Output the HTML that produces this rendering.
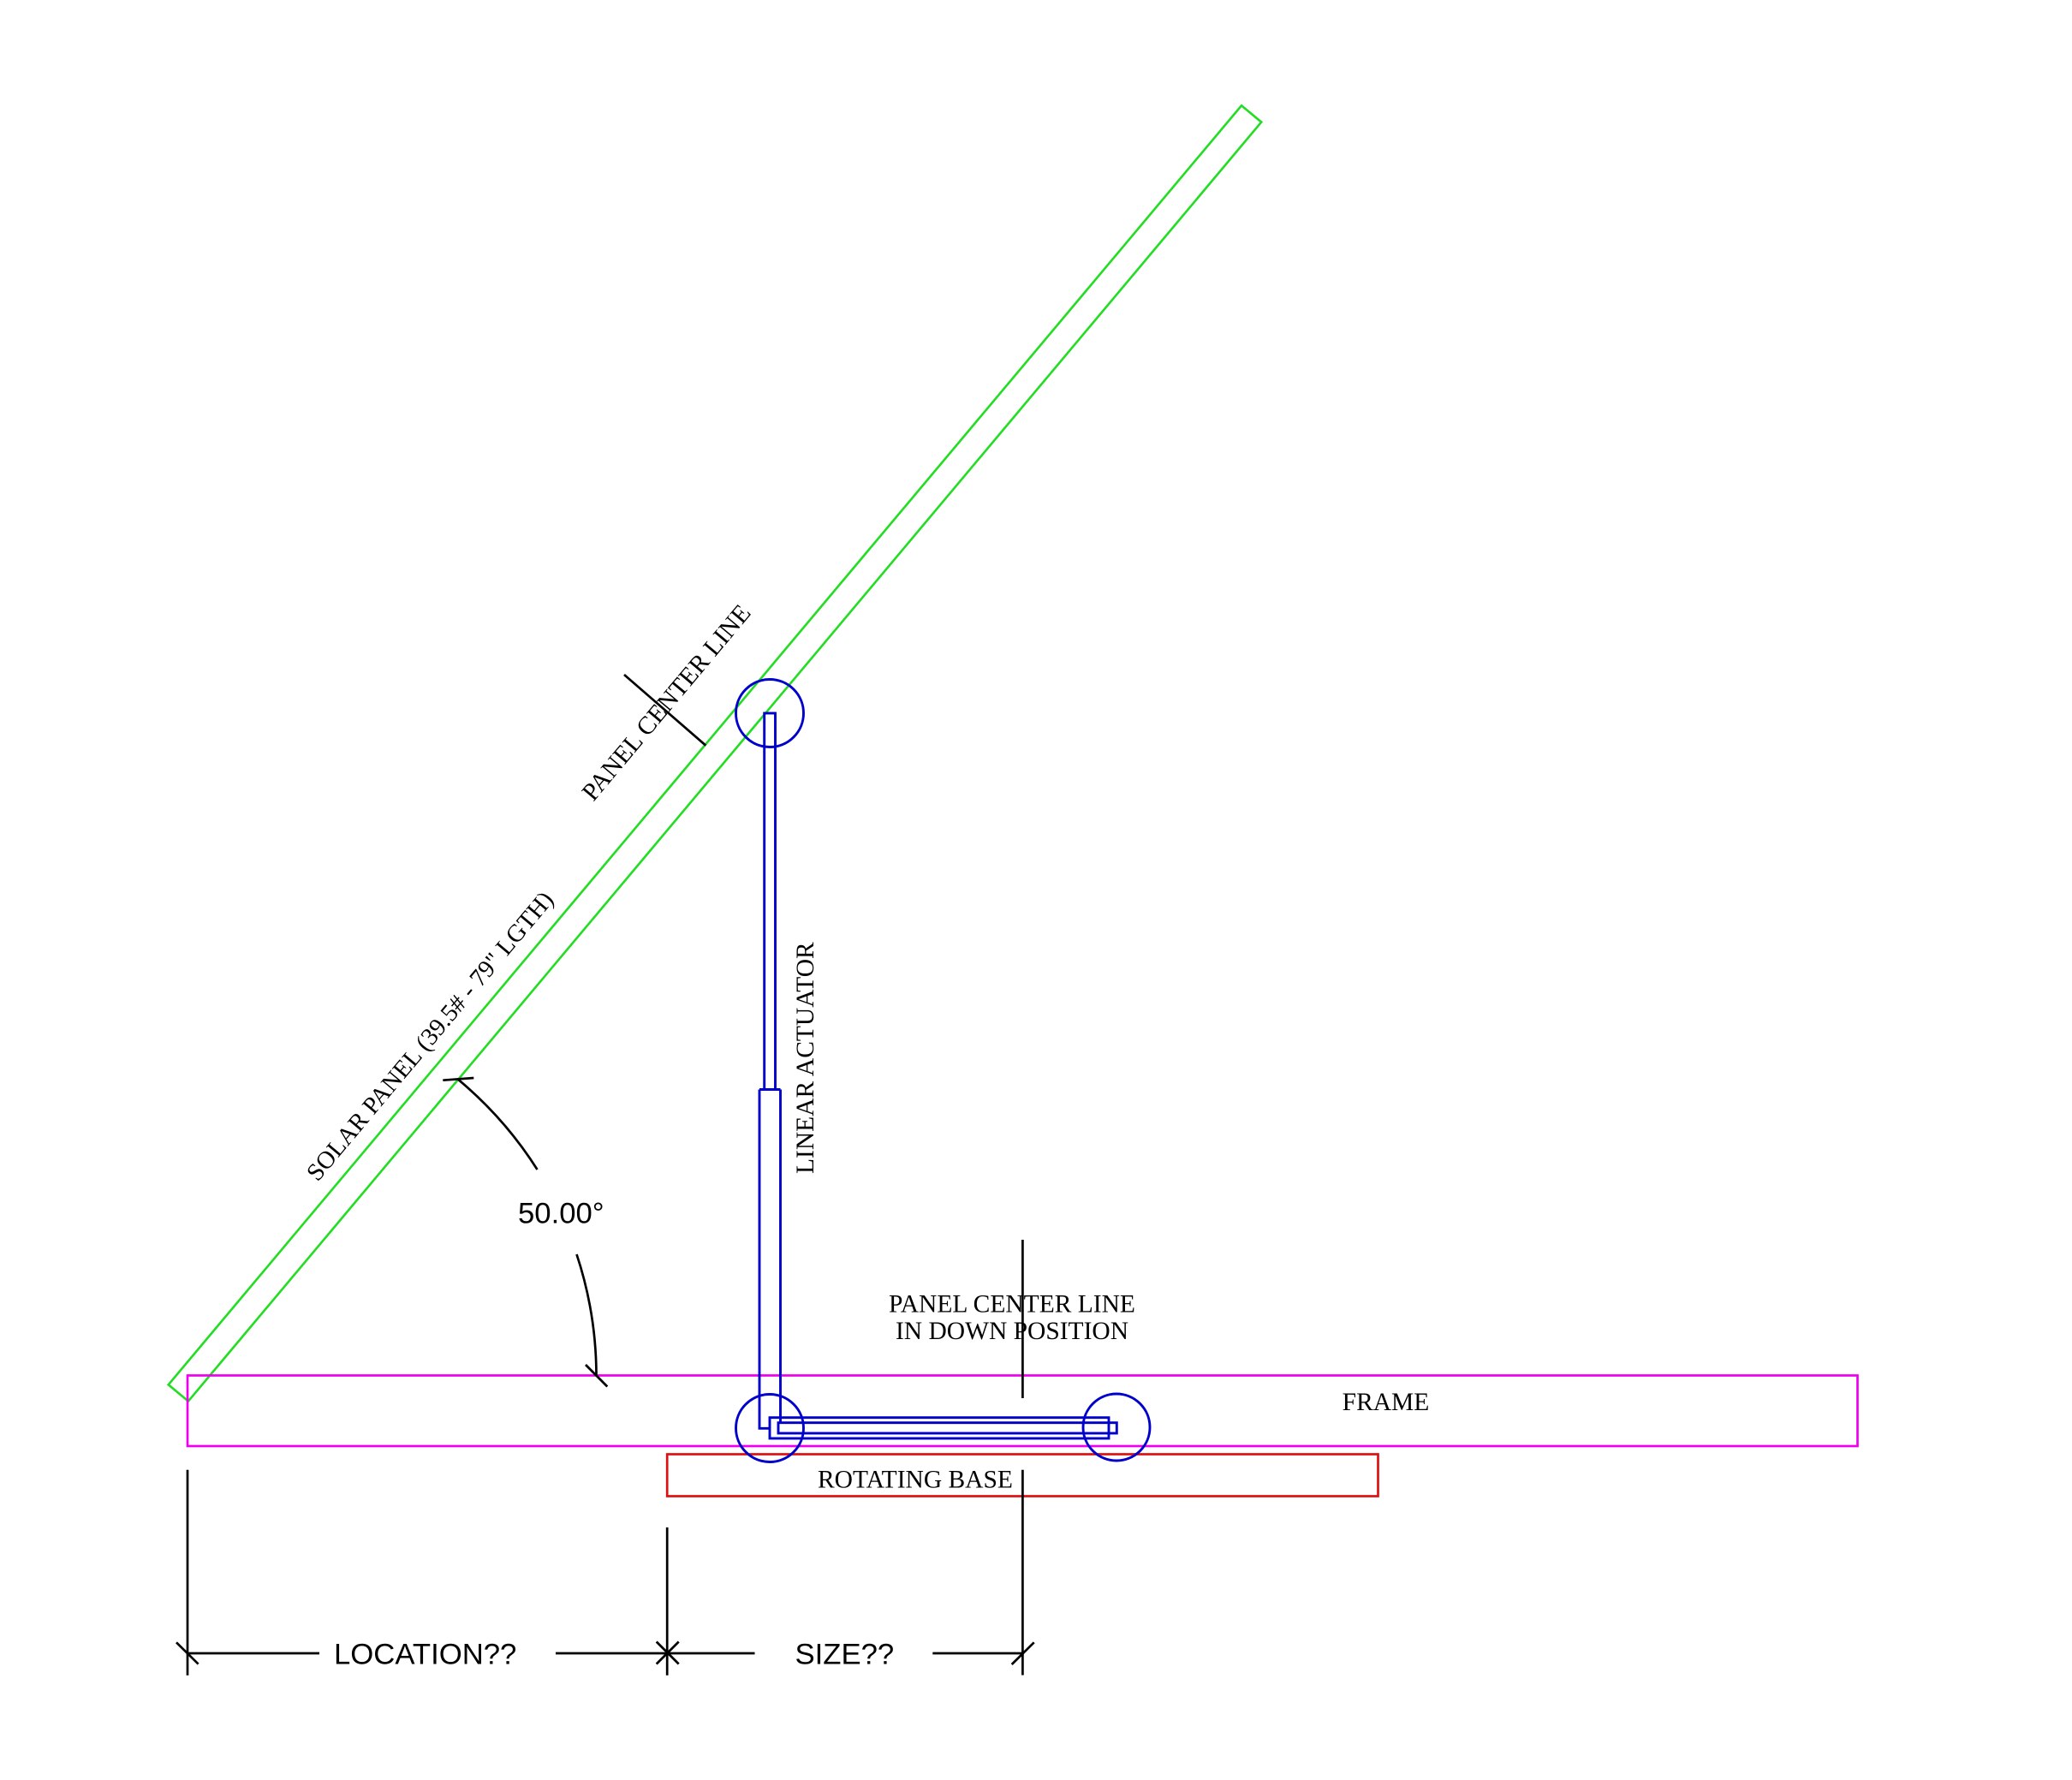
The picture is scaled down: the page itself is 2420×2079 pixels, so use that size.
<!DOCTYPE html>
<html>
<head>
<meta charset="utf-8">
<style>
  html, body { margin: 0; padding: 0; background: #ffffff; }
  svg { display: block; }
  .serif { font-family: "Liberation Serif", "Times New Roman", serif; font-size: 29.5px; fill: #000; }
  .sans { font-family: "Liberation Sans", Arial, sans-serif; font-size: 34.7px; fill: #000; }
</style>
</head>
<body>
<svg width="2420" height="2079" viewBox="0 0 2420 2079" xmlns="http://www.w3.org/2000/svg">
  <rect x="0" y="0" width="2420" height="2079" fill="#ffffff"/>

  <!-- Solar panel (green) -->
  <polygon points="196.7,1617.3 1450,123.3 1473.2,142.6 219.9,1636.6" fill="none" stroke="#22dd22" stroke-width="2.6" stroke-linejoin="miter"/>

  <!-- Frame (magenta) -->
  <rect x="219" y="1606.5" width="1950.5" height="82.5" fill="none" stroke="#ee00ee" stroke-width="2.7"/>

  <!-- Rotating base (red) -->
  <rect x="779.2" y="1698.5" width="830.3" height="49" fill="none" stroke="#dd1111" stroke-width="2.7"/>

  <!-- Linear actuator (blue) -->
  <g fill="none" stroke="#0000cc" stroke-width="2.9">
    <circle cx="899" cy="833" r="39.5"/>
    <circle cx="899" cy="1668" r="39.5"/>
    <circle cx="1304" cy="1667" r="39"/>
    <!-- rod -->
    <rect x="892.7" y="833" width="12.8" height="439.5"/>
    <!-- body -->
    <path d="M887,1272.5 H911.5 M887,1272.5 V1668.3 H899 M911.5,1272.5 V1661.7"/>
    <!-- horizontal actuator -->
    <rect x="899" y="1655.7" width="396" height="24.3"/>
    <rect x="909" y="1661.7" width="395.3" height="12.3"/>
  </g>

  <!-- Black lines: dimensions, center lines -->
  <g fill="none" stroke="#000" stroke-width="2.7" stroke-linecap="butt">
    <!-- panel center line tick -->
    <line x1="729" y1="788" x2="824.3" y2="870.7"/>
    <!-- panel center line in down position -->
    <line x1="1194.4" y1="1448" x2="1194.4" y2="1633"/>
    <line x1="1194.4" y1="1716.7" x2="1194.4" y2="1956.5"/>
    <!-- extension lines -->
    <line x1="219" y1="1716.7" x2="219" y2="1956.7"/>
    <line x1="779.2" y1="1784" x2="779.2" y2="1956.7"/>
    <!-- dimension lines -->
    <line x1="219" y1="1931" x2="373" y2="1931"/>
    <line x1="649" y1="1931" x2="881.5" y2="1931"/>
    <line x1="1089.3" y1="1931" x2="1194.4" y2="1931"/>
    <!-- ticks -->
    <line x1="206" y1="1918.3" x2="231.6" y2="1943.6"/>
    <line x1="766.7" y1="1917.5" x2="792.7" y2="1943.5"/>
    <line x1="766.7" y1="1943.5" x2="792.7" y2="1917.5"/>
    <line x1="1181.7" y1="1944" x2="1207.7" y2="1918.3"/>
    <!-- angle dimension arcs -->
    <path d="M535,1260.7 A452,452 0 0 1 627.5,1366"/>
    <path d="M673.5,1465 A452,452 0 0 1 696.5,1607"/>
    <line x1="517.3" y1="1261.7" x2="553.3" y2="1259"/>
    <line x1="684" y1="1594" x2="709.3" y2="1619.5"/>
  </g>

  <!-- Text labels -->
  <text class="serif" transform="translate(693,937) rotate(-50)">PANEL CENTER LINE</text>
  <text class="serif" transform="translate(371,1381) rotate(-50)" style="font-size:28.8px">SOLAR PANEL (39.5# - 79" LGTH)</text>
  <text class="serif" transform="translate(950,1371) rotate(-90)">LINEAR ACTUATOR</text>
  <text class="serif" x="1182" y="1532.3" text-anchor="middle">PANEL CENTER LINE</text>
  <text class="serif" x="1182" y="1564" text-anchor="middle">IN DOWN POSITION</text>
  <text class="serif" x="1618.5" y="1647" text-anchor="middle">FRAME</text>
  <text class="serif" x="955" y="1737.7">ROTATING BASE</text>

  <text class="sans" x="605" y="1428.3">50.00°</text>
  <text class="sans" x="390" y="1943.3">LOCATION??</text>
  <text class="sans" x="928.5" y="1943.3">SIZE??</text>
</svg>
</body>
</html>
